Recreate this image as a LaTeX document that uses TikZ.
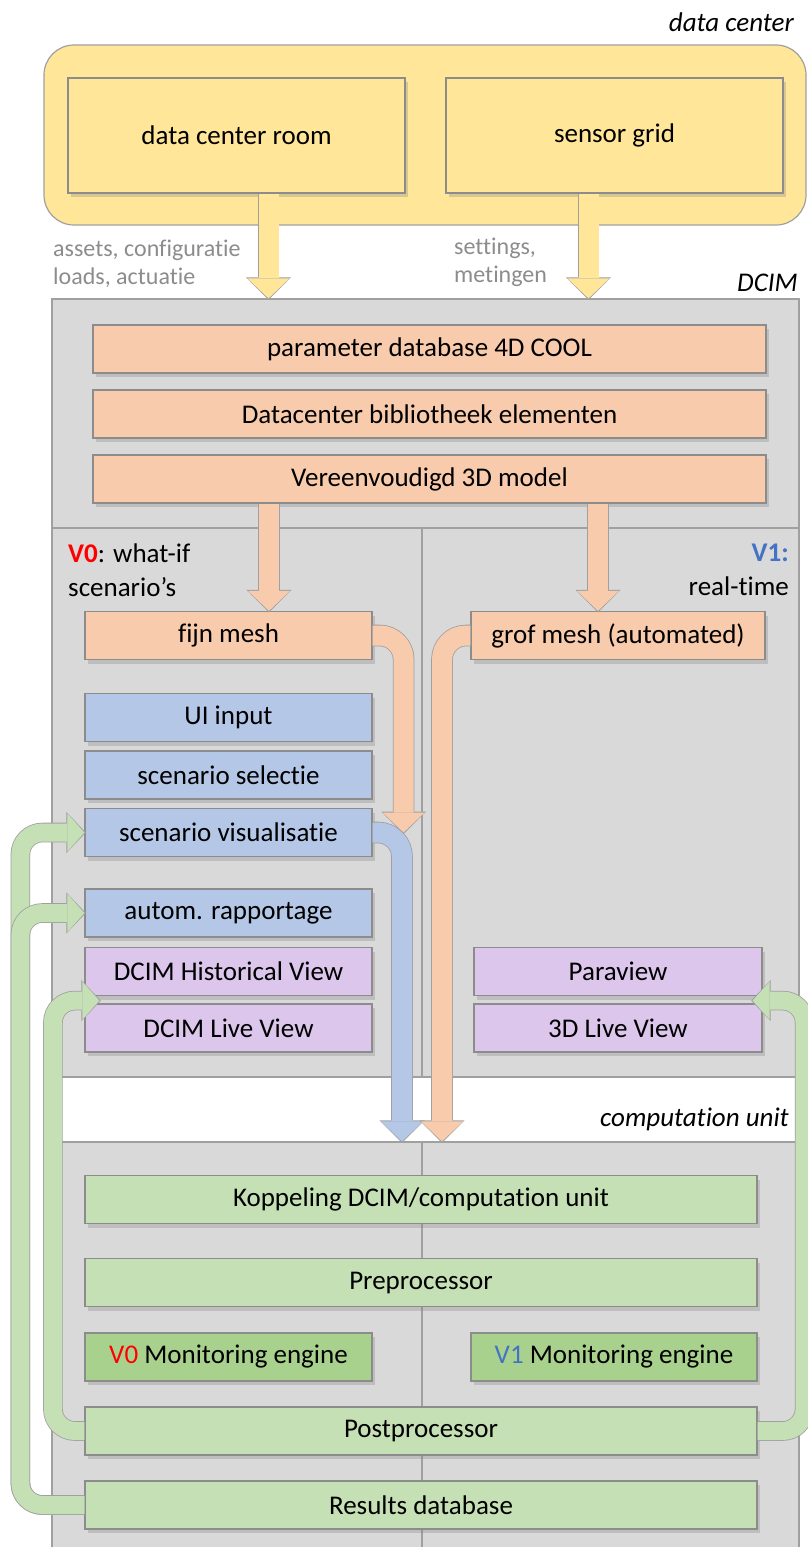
\documentclass[tikz,border=0pt]{standalone}
\usepackage{fontspec}
\setmainfont{Carlito}[Ligatures=NoCommon]
\usetikzlibrary{arrows.meta,shadows}

\definecolor{dcyellow}{HTML}{FFE699}
\definecolor{dcsalmon}{HTML}{F8CBAD}
\definecolor{dcblue}{HTML}{B4C7E7}
\definecolor{dcpurple}{HTML}{DCC6EC}
\definecolor{dcgreen}{HTML}{C5E0B4}
\definecolor{dcgreendark}{HTML}{A9D18E}
\definecolor{dcgrey}{HTML}{D9D9D9}
\definecolor{dcrim}{HTML}{A0A0A0}
\definecolor{dcline}{HTML}{8C8C8C}
\definecolor{dcnote}{HTML}{8C8C8C}
\definecolor{vzero}{HTML}{FF0000}
\definecolor{vone}{HTML}{4472C4}

\begin{document}
\begin{tikzpicture}[x=1pt, y=-1pt]
  \tikzstyle{box} = [draw=dcline, line width=1.2pt, inner sep=0pt,
  minimum height=48pt, align=center, text=black,
  font=\fontsize{27}{32}\selectfont,
  drop shadow={shadow xshift=3pt, shadow yshift=-4pt, opacity=0.3}];
  \tikzstyle{panel} = [draw=dcrim, line width=1.2pt, fill=dcgrey, inner sep=0pt];
  \tikzstyle{divider} = [draw=dcrim, line width=1.2pt];
  \tikzstyle{tag} = [inner sep=0pt, font=\fontsize{27}{34}\selectfont\itshape];
  \tikzstyle{note} = [inner sep=0pt, font=\fontsize{27}{34}\selectfont];
  \tikzstyle{feed} = [inner sep=0pt, text=dcnote, align=left,
  font=\fontsize{24}{28}\selectfont];
  \tikzstyle{fat} = [line width=20pt,
  -{Triangle[width=42pt, length=20pt, line width=0pt]},
  preaction={draw=dcrim, line width=21.6pt, shorten >=-1.4pt,
    -{Triangle[width=45pt, length=22.4pt, line width=0pt]}}];
  \tikzstyle{slim} = [line width=18pt, rounded corners=22pt,
  -{Triangle[width=38pt, length=17pt, line width=0pt]},
  preaction={draw=dcrim, line width=19.6pt, shorten >=-1.4pt,
    -{Triangle[width=41pt, length=19.4pt, line width=0pt]}}];

  \useasboundingbox (0,0) rectangle (808,1547);

  % the three zones
  \node[panel, fill=dcyellow, rounded corners=30pt,
  minimum width=762pt, minimum height=180pt] (dc) at (425,135) {};
  \node[panel, minimum width=747pt, minimum height=778pt] (dcim) at (425.5,688) {};
  \node[panel, minimum width=747pt, minimum height=428pt] (comp) at (425.5,1356) {};

  \draw[divider] (52,528) -- (799,528);
  \draw[divider] (422,528) -- (422,1077);
  \draw[divider] (422,1142) -- (422,1547);

  \node[tag, anchor=east] (dctag) at (794,22) {data center};
  \node[tag, anchor=east] (dcimtag) at (798,283) {DCIM};
  \node[tag, anchor=east] (comptag) at (789,1119) {computation unit};

  \node[feed, anchor=west] (assets) at (53,264) {assets, configuratie\\loads, actuatie};
  \node[feed, anchor=west] (settings) at (454,262) {settings,\\metingen};

  \node[note, anchor=west, align=left] (vzeronote) at (68,570)
  {\textcolor{vzero}{\bfseries V0}: what-if\\scenario’s};
  \node[note, anchor=east, align=right] (vonenote) at (789,570)
  {\textcolor{vone}{\bfseries V1:}\\real-time};

  % data center
  \node[box, fill=dcyellow, minimum width=337pt, minimum height=115pt] (room) at (236.5,135.5) {data center room};
  \node[box, fill=dcyellow, minimum width=337pt, minimum height=115pt] (grid) at (614.5,135.5) {sensor grid};

  % DCIM
  \node[box, fill=dcsalmon, minimum width=673pt] (cool) at (429.5,349) {parameter database 4D COOL};
  \node[box, fill=dcsalmon, minimum width=673pt] (lib) at (429.5,414) {Datacenter bibliotheek elementen};
  \node[box, fill=dcsalmon, minimum width=673pt] (model) at (429.5,479) {Vereenvoudigd 3D model};

  \node[box, fill=dcsalmon, minimum width=287pt] (fijn) at (228.5,635.5) {fijn mesh};
  \node[box, fill=dcsalmon, minimum width=294pt] (grof) at (618,635.5) {grof mesh (automated)};

  \node[box, fill=dcblue, minimum width=287pt] (ui) at (228.5,717.5) {UI input};
  \node[box, fill=dcblue, minimum width=287pt] (select) at (228.5,775) {scenario selectie};
  \node[box, fill=dcblue, minimum width=287pt] (visual) at (228.5,832.5) {scenario visualisatie};
  \node[box, fill=dcblue, minimum width=287pt] (rapport) at (228.5,913) {autom. rapportage};

  \node[box, fill=dcpurple, minimum width=287pt] (hist) at (228.5,971.5) {DCIM Historical View};
  \node[box, fill=dcpurple, minimum width=287pt] (live) at (228.5,1028) {DCIM Live View};
  \node[box, fill=dcpurple, minimum width=288pt] (para) at (618,971.5) {Paraview};
  \node[box, fill=dcpurple, minimum width=288pt] (live3d) at (618,1028) {3D Live View};

  % computation unit
  \node[box, fill=dcgreen, minimum width=672pt] (koppel) at (421,1199.5) {Koppeling DCIM/computation unit};
  \node[box, fill=dcgreen, minimum width=672pt] (pre) at (421,1282.5) {Preprocessor};
  \node[box, fill=dcgreendark, minimum width=287pt] (mon0) at (228.5,1357) {\textcolor{vzero}{V0} Monitoring engine};
  \node[box, fill=dcgreendark, minimum width=286pt] (mon1) at (614,1357) {\textcolor{vone}{V1} Monitoring engine};
  \node[box, fill=dcgreen, minimum width=672pt] (post) at (421,1431) {Postprocessor};
  \node[box, fill=dcgreen, minimum width=672pt] (results) at (421,1505) {Results database};

  % feeds
  \coordinate (feedA) at ([xshift=32pt]room.south);
  \coordinate (feedB) at ([xshift=-26pt]grid.south);
  \draw[fat, dcyellow] (feedA) -- (feedA |- dcim.north);
  \draw[fat, dcyellow] (feedB) -- (feedB |- dcim.north);

  \coordinate (meshA) at ([xshift=-160.5pt]model.south);
  \coordinate (meshB) at ([xshift=168.5pt]model.south);
  \draw[fat, dcsalmon] (meshA) -- (meshA |- fijn.north);
  \draw[fat, dcsalmon] (meshB) -- (meshB |- grof.north);

  \coordinate (blueend) at ([xshift=-23.5pt]comp.north);
  \coordinate (salmonend) at ([xshift=16.5pt]comp.north);
  \draw[fat, dcblue, rounded corners=24pt] (visual.east) -| (blueend);
  \draw[fat, dcsalmon, rounded corners=24pt] (grof.west) -| (salmonend);
  \draw[fat, dcsalmon, rounded corners=24pt] (fijn.east) -| ([xshift=31pt]visual.east);

  % results back to the views
  \draw[slim, dcgreen] (results.west) -- ++(-64,0) |- (visual.west);
  \draw[slim, dcgreen] (results.west) -- ++(-64,0) |- (rapport.west);
  \draw[slim, dcgreen] (post.west) -- ++(-31.5,0) |- ([xshift=15pt,yshift=-4.5pt]hist.south west);
  \draw[slim, dcgreen] (post.east) -- ++(47,0) |- ([xshift=-10pt,yshift=-4.5pt]para.south east);
\end{tikzpicture}
\end{document}
